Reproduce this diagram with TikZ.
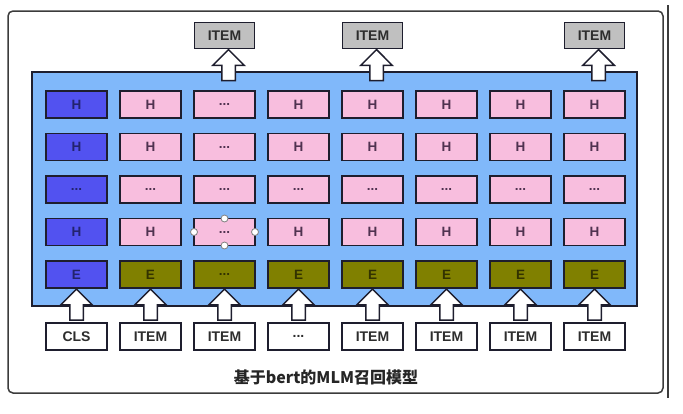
\documentclass[tikz,border=0pt]{standalone}
\usepackage{fontspec}
\setmainfont{Liberation Sans}
\newfontfamily\cjkfont{Noto Sans CJK SC}
\usetikzlibrary{positioning,shapes.arrows}

\definecolor{panelblue}{RGB}{128,184,250}
\definecolor{clsviolet}{RGB}{82,82,240}
\definecolor{cellpink}{RGB}{248,190,222}
\definecolor{embolive}{RGB}{128,128,0}
\definecolor{itemgray}{RGB}{192,192,192}
\definecolor{edgedark}{RGB}{30,30,46}
\definecolor{framegray}{RGB}{60,60,60}

\begin{document}
\begin{tikzpicture}[x=1pt,y=-1pt,node distance=15.5pt and 13pt,
  cell/.style={draw=edgedark,line width=1.5pt,outer sep=0pt,minimum width=61pt,minimum height=27pt,inner sep=0pt,font=\bfseries\fontsize{13.5}{13.5}\selectfont},
  cls cell/.style={cell,fill=clsviolet,text={rgb,255:red,35;green,35;blue,110}},
  hid cell/.style={cell,fill=cellpink,text={rgb,255:red,80;green,50;blue,80}},
  emb cell/.style={cell,fill=embolive,text={rgb,255:red,50;green,50;blue,0}},
  in cell/.style={cell,fill=white,text={rgb,255:red,45;green,45;blue,45},font=\bfseries\fontsize{14}{14}\selectfont},
  out cell/.style={in cell,fill=itemgray,minimum width=60pt,minimum height=26pt},
  up arrow/.style={single arrow,draw=edgedark,line width=1.5pt,fill=white,rotate=90,anchor=tip,
    minimum height=31pt,inner sep=6pt,single arrow head extend=9pt,single arrow head indent=0pt},
  handle/.style={circle,draw=gray,fill=white,line width=0.8pt,inner sep=0pt,minimum size=7pt}]
\useasboundingbox (0,0) rectangle (683,413);

% outer frame
\draw[framegray,line width=1.5pt,rounded corners=5pt] (8,11) rectangle (663,393);
\draw[framegray,line width=1.5pt] (668,5) -- (668,398);

% bert body
\draw[edgedark,line width=1.5pt,fill=panelblue] (32,72) rectangle (637,306);

% embedding row
\node[cls cell] (e1) at (76.5,274.5) {E};
\node[emb cell] (e2) [right=of e1] {E};
\node[emb cell] (e3) [right=of e2] {...};
\node[emb cell] (e4) [right=of e3] {E};
\node[emb cell] (e5) [right=of e4] {E};
\node[emb cell] (e6) [right=of e5] {E};
\node[emb cell] (e7) [right=of e6] {E};
\node[emb cell] (e8) [right=of e7] {E};

% hidden rows
\node[cls cell] (d1) [above=of e1] {H};
\node[hid cell] (d2) [above=of e2] {H};
\node[hid cell] (d3) [above=of e3] {...};
\node[hid cell] (d4) [above=of e4] {H};
\node[hid cell] (d5) [above=of e5] {H};
\node[hid cell] (d6) [above=of e6] {H};
\node[hid cell] (d7) [above=of e7] {H};
\node[hid cell] (d8) [above=of e8] {H};

\node[cls cell] (c1) [above=of d1] {...};
\node[hid cell] (c2) [above=of d2] {...};
\node[hid cell] (c3) [above=of d3] {...};
\node[hid cell] (c4) [above=of d4] {...};
\node[hid cell] (c5) [above=of d5] {...};
\node[hid cell] (c6) [above=of d6] {...};
\node[hid cell] (c7) [above=of d7] {...};
\node[hid cell] (c8) [above=of d8] {...};

\node[cls cell] (b1) [above=of c1] {H};
\node[hid cell] (b2) [above=of c2] {H};
\node[hid cell] (b3) [above=of c3] {...};
\node[hid cell] (b4) [above=of c4] {H};
\node[hid cell] (b5) [above=of c5] {H};
\node[hid cell] (b6) [above=of c6] {H};
\node[hid cell] (b7) [above=of c7] {H};
\node[hid cell] (b8) [above=of c8] {H};

\node[cls cell] (a1) [above=of b1] {H};
\node[hid cell] (a2) [above=of b2] {H};
\node[hid cell] (a3) [above=of b3] {...};
\node[hid cell] (a4) [above=of b4] {H};
\node[hid cell] (a5) [above=of b5] {H};
\node[hid cell] (a6) [above=of b6] {H};
\node[hid cell] (a7) [above=of b7] {H};
\node[hid cell] (a8) [above=of b8] {H};

% selection handles
\node[handle] (hn) at (d3.north) {};
\node[handle] (hs) at (d3.south) {};
\node[handle] (hw) at (d3.west) {};
\node[handle] (he) at (d3.east) {};

% inputs
\node[in cell] (x1) [below=35pt of e1] {CLS};
\node[in cell] (x2) [below=35pt of e2] {ITEM};
\node[in cell] (x3) [below=35pt of e3] {ITEM};
\node[in cell] (x4) [below=35pt of e4] {...};
\node[in cell] (x5) [below=35pt of e5] {ITEM};
\node[in cell] (x6) [below=35pt of e6] {ITEM};
\node[in cell] (x7) [below=35pt of e7] {ITEM};
\node[in cell] (x8) [below=35pt of e8] {ITEM};

% outputs
\node[out cell] (y3) [above=42.5pt of a3] {ITEM};
\node[out cell] (y5) [above=42.5pt of a5] {ITEM};
\node[out cell] (y8) [above=42.5pt of a8] {ITEM};

% arrows
\node[up arrow] (u1) at (e1.south) {};
\node[up arrow] (u2) at (e2.south) {};
\node[up arrow] (u3) at (e3.south) {};
\node[up arrow] (u4) at (e4.south) {};
\node[up arrow] (u5) at (e5.south) {};
\node[up arrow] (u6) at (e6.south) {};
\node[up arrow] (u7) at (e7.south) {};
\node[up arrow] (u8) at (e8.south) {};
\node[up arrow,yshift=-4pt] (v3) at (y3.south) {};
\node[up arrow,yshift=-4pt] (v5) at (y5.south) {};
\node[up arrow,yshift=-4pt] (v8) at (y8.south) {};

\node[font=\cjkfont\bfseries\fontsize{16}{16}\selectfont,text=black!85] (title) at (326,377) {基于bert的MLM召回模型};
\end{tikzpicture}
\end{document}
